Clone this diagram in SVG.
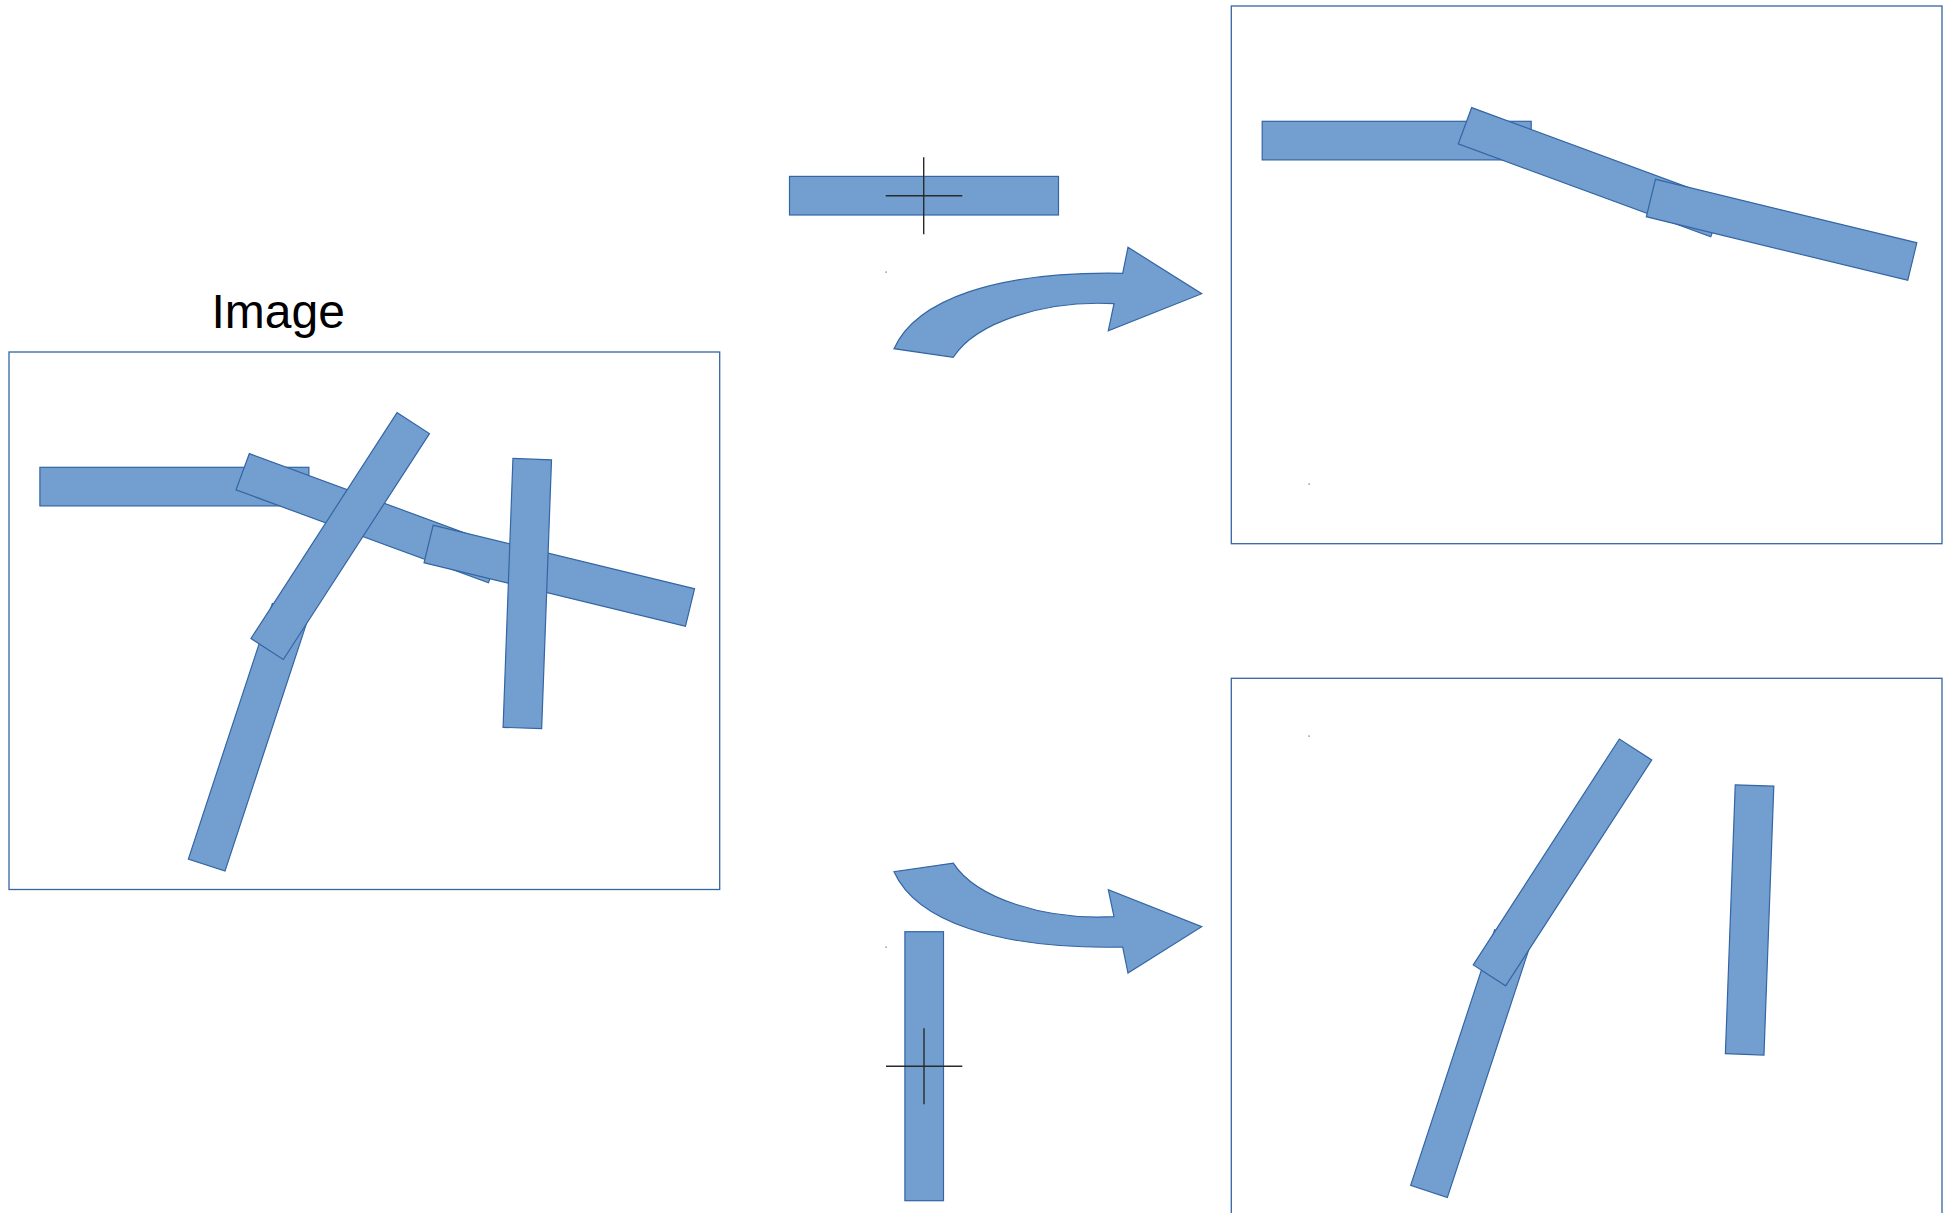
<svg xmlns="http://www.w3.org/2000/svg" xmlns:xlink="http://www.w3.org/1999/xlink" width="1952" height="1213" viewBox="0 0 1952 1213">
<style>
.frame{fill:none;stroke:#3465a4;stroke-width:1.3}
.bar{fill:#729fcf;stroke:#3465a4;stroke-width:1.2}
.cross{stroke:#2a2a2a;stroke-width:1.4;fill:none}
.arrow{fill:#729fcf;stroke:#3465a4;stroke-width:1.2;stroke-linejoin:miter}
.title{font-family:"Liberation Sans",Arial,sans-serif;font-size:48px;fill:#000}
.dot{fill:#3465a4}
</style>
<defs>
<rect id="b" class="bar" x="-134.5" y="-19.3" width="269" height="38.6"/>
<path id="arr" class="arrow" d="M894,348.7 C916,300 995,271 1122.7,273.3 L1128,247.3 L1201.7,293.7 L1108.3,330.7 L1114,303.7 C1045,300 976,322 953.3,357.3 Z"/>
</defs>
<rect width="1952" height="1213" fill="#fff"/>

<g id="title"><text class="title" x="211.5" y="328">Image</text></g>

<g id="frame-image">
<rect class="frame" x="9" y="352" width="710.7" height="537.5"/>
<use xlink:href="#b" href="#b" transform="translate(174.4,486.6)"/>
<use xlink:href="#b" href="#b" transform="translate(368.9,518.2) rotate(20.2)"/>
<use xlink:href="#b" href="#b" transform="translate(559.3,575.8) rotate(13.65)"/>
<use xlink:href="#b" href="#b" transform="translate(248.7,737.3) rotate(-71.8)"/>
<use xlink:href="#b" href="#b" transform="translate(340.2,536.1) rotate(-57.1)"/>
<use xlink:href="#b" href="#b" transform="translate(527.3,593.6) rotate(-87.9)"/>
</g>

<g id="frame-top">
<rect class="frame" x="1231.3" y="6" width="710.7" height="537.7"/>
<g transform="translate(1222.3,-346)">
<use xlink:href="#b" href="#b" transform="translate(174.4,486.6)"/>
<use xlink:href="#b" href="#b" transform="translate(368.9,518.2) rotate(20.2)"/>
<use xlink:href="#b" href="#b" transform="translate(559.3,575.8) rotate(13.65)"/>
</g>
<rect class="dot" x="1308.5" y="483.5" width="1.2" height="1.2"/>
</g>

<g id="frame-bottom">
<rect class="frame" x="1231.3" y="678.3" width="710.7" height="560"/>
<g transform="translate(1222.3,326.3)">
<use xlink:href="#b" href="#b" transform="translate(248.7,737.3) rotate(-71.8)"/>
<use xlink:href="#b" href="#b" transform="translate(340.2,536.1) rotate(-57.1)"/>
<use xlink:href="#b" href="#b" transform="translate(527.3,593.6) rotate(-87.9)"/>
</g>
<rect class="dot" x="1308.5" y="735.5" width="1.2" height="1.2"/>
</g>

<g id="bar-horizontal">
<use xlink:href="#b" href="#b" transform="translate(924,195.7)"/>
<line class="cross" x1="923.7" y1="157.3" x2="923.7" y2="234.3"/>
<line class="cross" x1="885.7" y1="195.7" x2="962.3" y2="195.7"/>
<rect class="dot" x="885.5" y="271.5" width="1.2" height="1.2"/>
</g>

<g id="bar-vertical">
<use xlink:href="#b" href="#b" transform="translate(924.2,1066.2) rotate(90)"/>
<line class="cross" x1="924" y1="1028.3" x2="924" y2="1104.3"/>
<line class="cross" x1="886" y1="1066.3" x2="962.3" y2="1066.3"/>
<rect class="dot" x="885.5" y="946.5" width="1.2" height="1.2"/>
</g>

<g id="connectors">
<use xlink:href="#arr" href="#arr"/>
<use xlink:href="#arr" href="#arr" transform="translate(0,1220.4) scale(1,-1)"/>
</g>
</svg>
